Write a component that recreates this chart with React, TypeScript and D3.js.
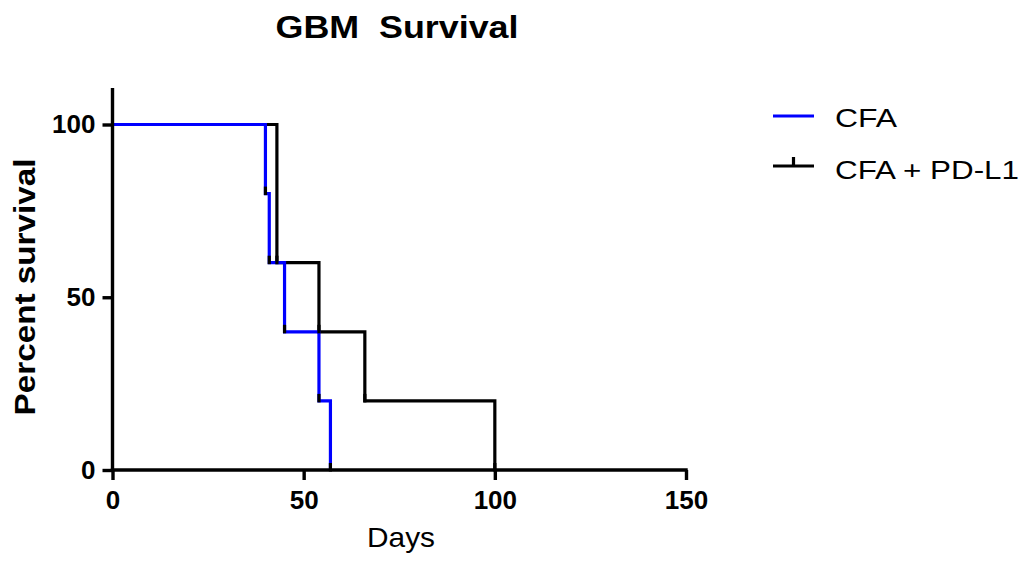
import React, { useEffect, useRef } from 'react';
import * as d3 from 'd3';

// survival steps
const cfaDays = [0, 40, 41, 45, 54, 57];
const cfaSurvival = [100, 80, 60, 40, 20, 0];
const pdl1Days = [0, 43, 54, 66, 100];
const pdl1Survival = [100, 60, 40, 20, 0];

const xTicks = [0, 50, 100, 150];
const yTicks = [0, 50, 100];
const seriesNames = ['CFA', 'CFA + PD-L1'];
const seriesColors = ['#0000ff', '#000000'];

const width = 1027;
const height = 565;
const font = '"Liberation Sans", Arial, sans-serif';

export default function App() {
  const ref = useRef<SVGSVGElement>(null);

  useEffect(() => {
    const svg = d3.select(ref.current);
    svg.selectAll('*').remove();

    const x = d3.scaleLinear().domain([0, 150]).range([112.5, 686]);
    const y = d3.scaleLinear().domain([0, 100]).range([470, 124.5]);
    const yTop = 110.6;

    const series = [
      { name: seriesNames[0], color: seriesColors[0], pts: cfaDays.map((d, i) => ({ day: d, v: cfaSurvival[i] })) },
      { name: seriesNames[1], color: seriesColors[1], pts: pdl1Days.map((d, i) => ({ day: d, v: pdl1Survival[i] })) }
    ];

    const line = d3.line<{ day: number; v: number }>()
      .x(d => x(d.day))
      .y(d => y(d.v))
      .curve(d3.curveStepAfter);

    // black curve first, blue drawn over it
    [series[1], series[0]].forEach(s => {
      svg.append('path')
        .datum(s.pts)
        .attr('fill', 'none')
        .attr('stroke', s.color)
        .attr('stroke-width', 3.2)
        .attr('d', line);
    });

    // small marks at the foot of each drop
    series.forEach(s => {
      s.pts.slice(1).forEach(p => {
        svg.append('line')
          .attr('x1', x(p.day)).attr('x2', x(p.day))
          .attr('y1', y(p.v) - 7).attr('y2', y(p.v) + 1.5)
          .attr('stroke', '#000').attr('stroke-width', 3.2);
      });
    });

    // axes
    const xAxis = g => g
      .attr('transform', `translate(0,${y(0)})`)
      .call(d3.axisBottom(x).tickValues(xTicks).tickSize(10).tickPadding(11).tickSizeOuter(0))
      .call(g => g.select('.domain').attr('stroke-width', 3.4).attr('d', `M${x(0) - 1.7},0H${x(150) + 1.7}`))
      .call(g => g.selectAll('.tick line').attr('stroke-width', 3.4))
      .call(g => g.selectAll('.tick text')
        .attr('font-family', font).attr('font-size', 26).attr('font-weight', 'bold').attr('fill', '#000'));
    svg.append('g').call(xAxis);

    const yAxis = g => g
      .attr('transform', `translate(${x(0)},0)`)
      .call(d3.axisLeft(y).tickValues(yTicks).tickSize(10).tickPadding(7).tickSizeOuter(0))
      .call(g => g.select('.domain').attr('stroke-width', 3.4).attr('d', `M0,${y(yTop)}V${y(0) + 1.7}`))
      .call(g => g.selectAll('.tick line').attr('stroke-width', 3.4))
      .call(g => g.selectAll('.tick text')
        .attr('font-family', font).attr('font-size', 26).attr('font-weight', 'bold').attr('fill', '#000'));
    svg.append('g').call(yAxis);

    // title and axis labels
    svg.append('text')
      .attr('x', 397).attr('y', 38)
      .attr('text-anchor', 'middle')
      .attr('font-family', font).attr('font-size', 31).attr('font-weight', 'bold')
      .attr('textLength', 243).attr('lengthAdjust', 'spacingAndGlyphs')
      .style('white-space', 'pre')
      .text('GBM  Survival');

    svg.append('text')
      .attr('x', 401).attr('y', 547)
      .attr('text-anchor', 'middle')
      .attr('font-family', font).attr('font-size', 28)
      .attr('textLength', 68).attr('lengthAdjust', 'spacingAndGlyphs')
      .text('Days');

    svg.append('text')
      .attr('transform', 'translate(35,287) rotate(-90)')
      .attr('text-anchor', 'middle')
      .attr('font-family', font).attr('font-size', 30).attr('font-weight', 'bold')
      .attr('textLength', 257).attr('lengthAdjust', 'spacingAndGlyphs')
      .text('Percent survival');

    // legend
    const legendLen = [62, 184];
    series.forEach((s, i) => {
      const ly = 116 + i * 50;
      const g = svg.append('g');
      g.append('line')
        .attr('x1', 773).attr('x2', 814).attr('y1', ly).attr('y2', ly)
        .attr('stroke', s.color).attr('stroke-width', 3.2);
      if (i === 1) {
        g.append('line')
          .attr('x1', 793.5).attr('x2', 793.5).attr('y1', ly - 9).attr('y2', ly)
          .attr('stroke', s.color).attr('stroke-width', 3.2);
      }
      g.append('text')
        .attr('x', 835).attr('y', ly + 11 + i * 2)
        .attr('font-family', font).attr('font-size', 26)
        .attr('textLength', legendLen[i]).attr('lengthAdjust', 'spacingAndGlyphs')
        .text(s.name);
    });
  }, []);

  return (
    <svg ref={ref} width={width} height={height}
      style={{ position: 'absolute', left: 0, top: 0, background: '#fff' }} />
  );
}
